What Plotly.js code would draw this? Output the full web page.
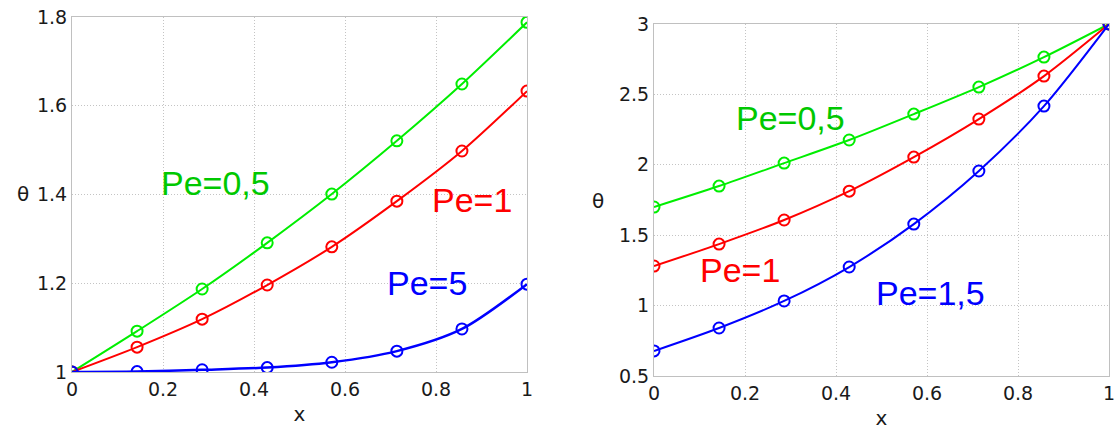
<!DOCTYPE html>
<html>
<head>
<meta charset="utf-8">
<script src="https://cdn.plot.ly/plotly-3.0.1.min.js"></script>
<style>html,body{margin:0;padding:0;background:#fff;}#chart{width:1119px;height:430px;}</style>
</head>
<body>
<div id="chart"></div>
<script>
// Shared x positions of the nodes
const xNodes = [0, 0.143, 0.286, 0.429, 0.571, 0.714, 0.857, 1];

// Left panel values
const leftPe05 = [1.0, 1.092, 1.187, 1.291, 1.401, 1.521, 1.649, 1.788];
const leftPe1  = [1.0, 1.056, 1.119, 1.196, 1.282, 1.385, 1.498, 1.633];
const leftPe5  = [1.0, 1.001, 1.005, 1.010, 1.022, 1.047, 1.097, 1.198];

// Right panel values
const rightPe05 = [1.70, 1.849, 2.012, 2.176, 2.360, 2.552, 2.765, 3.0];
const rightPe1  = [1.281, 1.437, 1.608, 1.813, 2.055, 2.325, 2.630, 3.0];
const rightPe15 = [0.678, 0.841, 1.033, 1.274, 1.579, 1.956, 2.417, 3.0];

const xTicks = [0, 0.2, 0.4, 0.6, 0.8, 1];
const leftYTicks = [1, 1.2, 1.4, 1.6, 1.8];
const rightYTicks = [0.5, 1, 1.5, 2, 2.5, 3];

const labelsLeft = ["Pe=0,5", "Pe=1", "Pe=5"];
const labelsRight = ["Pe=0,5", "Pe=1", "Pe=1,5"];
const yTitle = "θ";
const xTitle = "x";

const GREEN = "#00ee00", RED = "#ff0000", BLUE = "#0000ff";
const GREEN_TXT = "#00c800";

function tr(y, color, xa, ya, w) {
  return {
    x: xNodes, y: y, xaxis: xa, yaxis: ya, type: "scatter", mode: "lines+markers",
    line: {color: color, width: w || 2, shape: "spline", smoothing: 0.8},
    marker: {symbol: "circle-open", size: 11, color: color, line: {width: 2, color: color}},
    showlegend: false, hoverinfo: "skip"
  };
}

const data = [
  tr(leftPe05, GREEN, "x", "y"),
  tr(leftPe1, RED, "x", "y"),
  tr(leftPe5, BLUE, "x", "y", 2.5),
  tr(rightPe05, GREEN, "x2", "y2"),
  tr(rightPe1, RED, "x2", "y2"),
  tr(rightPe15, BLUE, "x2", "y2")
];

const tickFont = {family: "DejaVu Sans", size: 19, color: "#1a1a1a"};
const axBase = {
  showline: true, mirror: true, linecolor: "#c0c0c0", linewidth: 1,
  showgrid: true, gridcolor: "#c4c4c4", griddash: "1px,2px", gridwidth: 1,
  zeroline: false, ticks: "", tickfont: tickFont, automargin: false, fixedrange: true
};

function ax(extra) { return Object.assign({}, axBase, extra); }

const titleFont = {family: "DejaVu Sans", size: 20, color: "#1a1a1a"};

const layout = {
  width: 1119, height: 430,
  margin: {l: 0, r: 0, t: 0, b: 0},
  paper_bgcolor: "#fff", plot_bgcolor: "#fff",
  xaxis: ax({domain: [72/1119, 527/1119], range: [0, 1], tickvals: xTicks, anchor: "y",
    title: {text: xTitle, font: titleFont, standoff: 8}}),
  yaxis: ax({domain: [(430-372)/430, (430-17)/430], range: [1, 1.8], tickvals: leftYTicks, anchor: "x"}),
  xaxis2: ax({domain: [654/1119, 1109/1119], range: [0, 1], tickvals: xTicks, anchor: "y2",
    title: {text: xTitle, font: titleFont, standoff: 10}}),
  yaxis2: ax({domain: [(430-376)/430, (430-24)/430], range: [0.5, 3], tickvals: rightYTicks, anchor: "x2"}),
  annotations: [
    {xref: "paper", yref: "paper", x: 15/1119, y: (430-194)/430, text: yTitle, showarrow: false, font: titleFont},
    {xref: "paper", yref: "paper", x: 598/1119, y: (430-201)/430, text: yTitle, showarrow: false, font: titleFont},
    {xref: "x", yref: "y", x: 0.316, y: 1.426, text: labelsLeft[0], showarrow: false, font: {family: "Liberation Sans", size: 34, color: GREEN_TXT}},
    {xref: "x", yref: "y", x: 0.879, y: 1.388, text: labelsLeft[1], showarrow: false, font: {family: "Liberation Sans", size: 34, color: RED}},
    {xref: "x", yref: "y", x: 0.78, y: 1.2, text: labelsLeft[2], showarrow: false, font: {family: "Liberation Sans", size: 34, color: BLUE}},
    {xref: "x2", yref: "y2", x: 0.299, y: 2.33, text: labelsRight[0], showarrow: false, font: {family: "Liberation Sans", size: 34, color: GREEN_TXT}},
    {xref: "x2", yref: "y2", x: 0.189, y: 1.253, text: labelsRight[1], showarrow: false, font: {family: "Liberation Sans", size: 34, color: RED}},
    {xref: "x2", yref: "y2", x: 0.607, y: 1.089, text: labelsRight[2], showarrow: false, font: {family: "Liberation Sans", size: 34, color: BLUE}}
  ]
};

Plotly.newPlot("chart", data, layout, {staticPlot: true, displayModeBar: false});
</script>
</body>
</html>
